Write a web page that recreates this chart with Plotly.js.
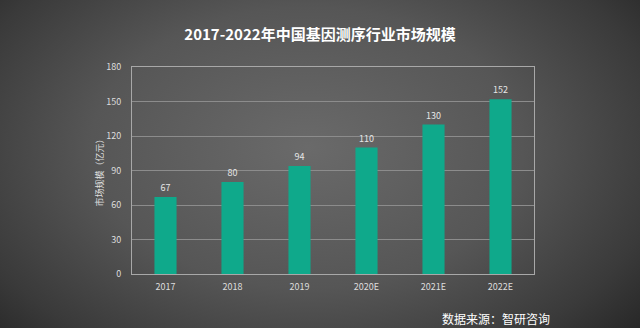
<!DOCTYPE html>
<html><head><meta charset="utf-8">
<script src="https://cdn.plot.ly/plotly-3.0.1.min.js"></script>
<style>
html,body{margin:0;padding:0;width:640px;height:328px;overflow:hidden;}
body{background:radial-gradient(ellipse 75% 95% at 48% 45%, #6a6a6a 0%, #565656 45%, #3a3a3a 75%, #1c1c1c 100%);}
#chart{width:640px;height:328px;}
</style></head>
<body><div id="chart"></div>
<script>
const years = ['2017','2018','2019','2020E','2021E','2022E'];
const marketSize = [67, 80, 94, 110, 130, 152];
const yTicks = [0, 30, 60, 90, 120, 150, 180];

const trace = {
  type: 'bar', x: years, y: marketSize,
  marker: {color: '#0fa98b'}, width: 0.33,
  text: marketSize.map(String), textposition: 'outside', cliponaxis: false,
  textfont: {family: 'Noto Sans CJK SC, sans-serif', size: 9, color: '#e6e6e6'},
  hoverinfo: 'none'
};
const layout = {
  width: 640, height: 328,
  paper_bgcolor: 'rgba(0,0,0,0)', plot_bgcolor: 'rgba(0,0,0,0)',
  margin: {l: 132, r: 106, t: 67, b: 54},
  showlegend: false,
  title: {text: '<b>2017-2022年中国基因测序行业市场规模</b>', x: 0.5, xanchor: 'center', y: 0.895, yanchor: 'middle',
          font: {family: 'Noto Sans CJK SC, sans-serif', size: 15, color: '#ffffff'}},
  xaxis: {type: 'category', showgrid: false, showline: true, linecolor: '#a8a8a8', linewidth: 1, mirror: true,
          ticks: '', tickfont: {family: 'Noto Sans CJK SC, sans-serif', size: 9, color: '#dddddd'}, ticklabelstandoff: 4},
  yaxis: {range: [0, 180], tickvals: yTicks, showgrid: true, gridcolor: '#8c8c8c', gridwidth: 1,
          showline: true, linecolor: '#a8a8a8', mirror: true, zeroline: false, ticks: '',
          tickfont: {family: 'Noto Sans CJK SC, sans-serif', size: 9, color: '#dddddd'}, ticklabelstandoff: 8,
          title: {text: '市场规模（亿元）', standoff: 1, font: {family: 'Noto Sans CJK SC, sans-serif', size: 9, color: '#dddddd'}}},
  annotations: [
    {text: '数据来源：智研咨询', xref: 'paper', yref: 'paper', x: 0.765, y: -0.213, xanchor: 'left', yanchor: 'middle',
     showarrow: false, font: {family: 'Noto Sans CJK SC, sans-serif', size: 12, color: '#ffffff'}}
  ]
};
Plotly.newPlot('chart', [trace], layout, {staticPlot: true});
</script></body></html>
